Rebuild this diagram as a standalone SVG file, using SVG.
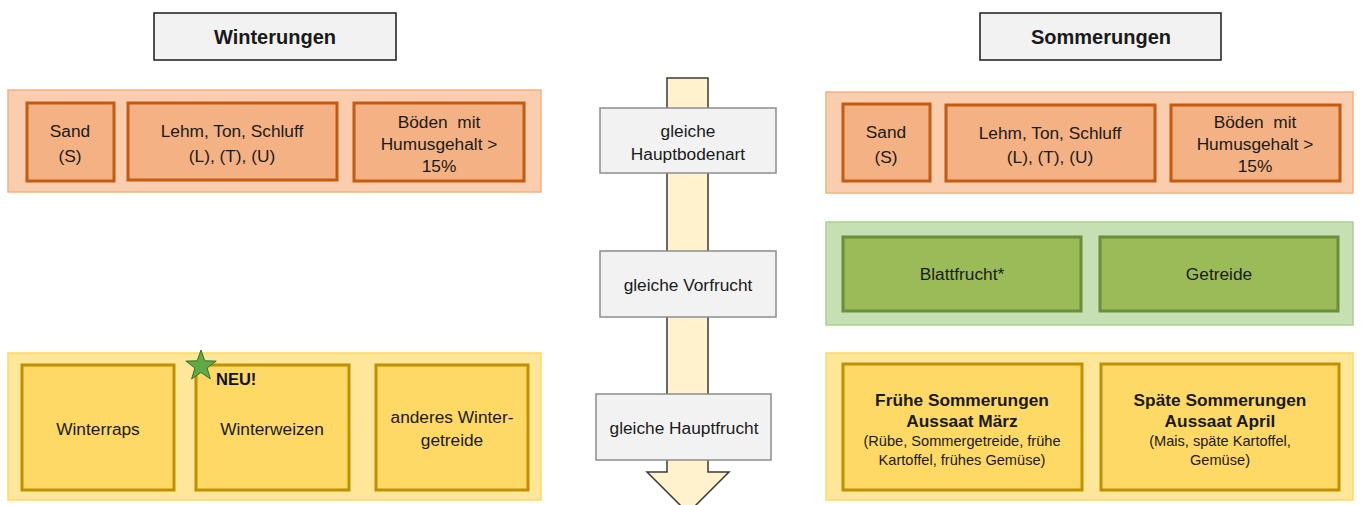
<svg xmlns="http://www.w3.org/2000/svg" width="1363" height="505" viewBox="0 0 1363 505">
<style>
text{font-family:"Liberation Sans",Arial,sans-serif;fill:#1a1a1a;text-anchor:middle;font-size:17.3px}
.title{font-weight:bold;font-size:20px}
.b{font-weight:bold}
.s{font-size:14.6px}
.pre{white-space:pre}
.tbox{fill:#F2F2F2;stroke:#1a1a1a;stroke-width:1.5}
.flow{fill:#F2F2F2;stroke:#8c8c8c;stroke-width:1.5}
.oc{fill:#F9CDAE;stroke:#F4B183;stroke-width:1.5}
.oi{fill:#F4B183;stroke:#C55A11;stroke-width:3}
.gc{fill:#C6E0B4;stroke:#A9D18E;stroke-width:1.5}
.gi{fill:#9BBB59;stroke:#6A8E3A;stroke-width:3}
.yc{fill:#FFE699;stroke:#FFD966;stroke-width:1.5}
.yi{fill:#FFD966;stroke:#BF9000;stroke-width:3}
</style>
<rect width="1363" height="505" fill="#ffffff"/>
<g id="connectors">
<path d="M667,78 H708 V472 H729 L688,513 L647,472 H667 Z" fill="#FFF2CC" stroke="#3a3a3a" stroke-width="1.5"/>
</g>
<g id="title-winter"><rect class="tbox" x="154" y="13" width="242" height="47"/><text class="title" x="275" y="44">Winterungen</text></g>
<g id="title-sommer"><rect class="tbox" x="980" y="13" width="241" height="47"/><text class="title" x="1101" y="44">Sommerungen</text></g>

<g id="flow-boden"><rect class="flow" x="600" y="108" width="176" height="65"/><text x="688" y="137">gleiche</text><text x="688" y="160">Hauptbodenart</text></g>
<g id="flow-vorfrucht"><rect class="flow" x="600" y="251" width="176" height="66"/><text x="688" y="291">gleiche Vorfrucht</text></g>
<g id="flow-hauptfrucht"><rect class="flow" x="596" y="394" width="175" height="66"/><text x="684" y="434">gleiche Hauptfrucht</text></g>

<g id="winter-boden">
<rect class="oc" x="8" y="90" width="533" height="102"/>
<g id="w-sand"><rect class="oi" x="27" y="103" width="87" height="78"/><text x="70" y="137">Sand</text><text x="70" y="162">(S)</text></g>
<g id="w-lehm"><rect class="oi" x="128" y="103" width="209" height="77"/><text x="232" y="137">Lehm, Ton, Schluff</text><text x="232" y="162">(L), (T), (U)</text></g>
<g id="w-humus"><rect class="oi" x="354" y="103" width="170" height="78"/><text class="pre" x="439" y="128">Böden  mit</text><text x="439" y="150">Humusgehalt &gt;</text><text x="439" y="172">15%</text></g>
</g>

<g id="sommer-boden">
<rect class="oc" x="826" y="92" width="527" height="101"/>
<g id="s-sand"><rect class="oi" x="843" y="104" width="87" height="77"/><text x="886" y="138">Sand</text><text x="886" y="163">(S)</text></g>
<g id="s-lehm"><rect class="oi" x="946" y="105" width="209" height="76"/><text x="1050" y="139">Lehm, Ton, Schluff</text><text x="1050" y="163">(L), (T), (U)</text></g>
<g id="s-humus"><rect class="oi" x="1171" y="105" width="169" height="76"/><text class="pre" x="1255" y="128">Böden  mit</text><text x="1255" y="150">Humusgehalt &gt;</text><text x="1255" y="172">15%</text></g>
</g>

<g id="sommer-vorfrucht">
<rect class="gc" x="826" y="222" width="527" height="103"/>
<g id="s-blatt"><rect class="gi" x="843" y="237" width="238" height="74"/><text x="962" y="280">Blattfrucht*</text></g>
<g id="s-getreide"><rect class="gi" x="1100" y="237" width="238" height="74"/><text x="1219" y="280">Getreide</text></g>
</g>

<g id="winter-frucht">
<rect class="yc" x="8" y="353" width="533" height="147"/>
<g id="w-raps"><rect class="yi" x="22" y="365" width="152" height="125"/><text x="98" y="435">Winterraps</text></g>
<g id="w-weizen"><rect class="yi" x="196" y="365" width="153" height="125"/><text x="272" y="435">Winterweizen</text></g>
<g id="w-anderes"><rect class="yi" x="376" y="365" width="152" height="125"/><text x="452" y="423">anderes Winter-</text><text x="452" y="446">getreide</text></g>
</g>

<g id="neu-badge">
<polygon points="201,350 204.8,360.8 216.2,361.1 207.1,368 210.4,379 201,372.5 191.6,379 194.9,368 185.8,361.1 197.2,360.8" fill="#5DAA46" stroke="#3F6E2E" stroke-width="1"/>
<text class="b" x="216" y="385" style="text-anchor:start;font-size:16.5px;fill:#111">NEU!</text>
</g>

<g id="sommer-frucht">
<rect class="yc" x="826" y="353" width="527" height="147"/>
<g id="s-frueh"><rect class="yi" x="843" y="364" width="239" height="126"/><text class="b" x="962" y="406">Frühe Sommerungen</text><text class="b" x="962" y="427">Aussaat März</text><text class="s" x="962" y="446">(Rübe, Sommergetreide, frühe</text><text class="s" x="962" y="465">Kartoffel, frühes Gemüse)</text></g>
<g id="s-spaet"><rect class="yi" x="1101" y="364" width="238" height="126"/><text class="b" x="1220" y="406">Späte Sommerungen</text><text class="b" x="1220" y="427">Aussaat April</text><text class="s" x="1220" y="446">(Mais, späte Kartoffel,</text><text class="s" x="1220" y="465">Gemüse)</text></g>
</g>
</svg>
